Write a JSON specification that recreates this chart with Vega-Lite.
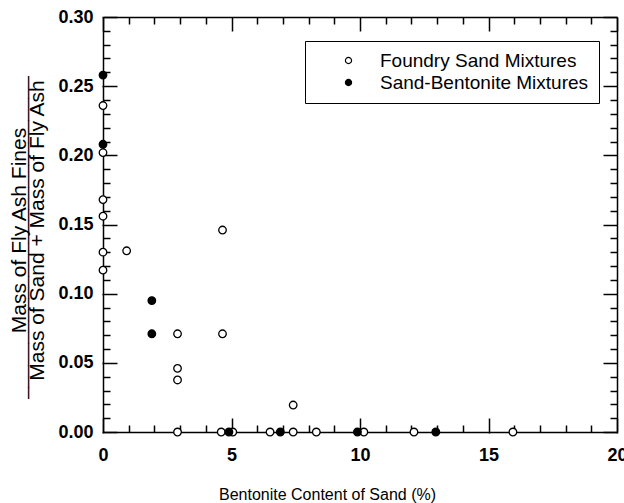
{
  "$schema": "https://vega.github.io/schema/vega-lite/v6.json",
  "width": 514,
  "height": 415,
  "autosize": "none",
  "padding": {"left": 103, "top": 17, "right": 7, "bottom": 71},
  "config": {
    "view": {"stroke": null},
    "axis": {
      "grid": false,
      "labelColor": "#000000",
      "titleColor": "#000000",
      "labelFont": "Liberation Sans",
      "titleFont": "Liberation Sans",
      "labelFlush": false,
      "labelOverlap": false,
      "labelBound": false
    }
  },
  "data": {
    "values": [
      {"series": "Foundry Sand Mixtures", "bentonite": 0, "ratio": 0.236},
      {"series": "Foundry Sand Mixtures", "bentonite": 0, "ratio": 0.202},
      {"series": "Foundry Sand Mixtures", "bentonite": 0, "ratio": 0.168},
      {"series": "Foundry Sand Mixtures", "bentonite": 0, "ratio": 0.156},
      {"series": "Foundry Sand Mixtures", "bentonite": 0, "ratio": 0.130},
      {"series": "Foundry Sand Mixtures", "bentonite": 0, "ratio": 0.117},
      {"series": "Foundry Sand Mixtures", "bentonite": 0.92, "ratio": 0.131},
      {"series": "Foundry Sand Mixtures", "bentonite": 4.65, "ratio": 0.146},
      {"series": "Foundry Sand Mixtures", "bentonite": 2.9, "ratio": 0.071},
      {"series": "Foundry Sand Mixtures", "bentonite": 4.65, "ratio": 0.071},
      {"series": "Foundry Sand Mixtures", "bentonite": 2.9, "ratio": 0.046},
      {"series": "Foundry Sand Mixtures", "bentonite": 2.9, "ratio": 0.0376},
      {"series": "Foundry Sand Mixtures", "bentonite": 7.4, "ratio": 0.0195},
      {"series": "Foundry Sand Mixtures", "bentonite": 2.9, "ratio": 0},
      {"series": "Foundry Sand Mixtures", "bentonite": 4.6, "ratio": 0},
      {"series": "Foundry Sand Mixtures", "bentonite": 5.05, "ratio": 0},
      {"series": "Foundry Sand Mixtures", "bentonite": 6.5, "ratio": 0},
      {"series": "Foundry Sand Mixtures", "bentonite": 7.4, "ratio": 0},
      {"series": "Foundry Sand Mixtures", "bentonite": 8.3, "ratio": 0},
      {"series": "Foundry Sand Mixtures", "bentonite": 10.15, "ratio": 0},
      {"series": "Foundry Sand Mixtures", "bentonite": 12.1, "ratio": 0},
      {"series": "Foundry Sand Mixtures", "bentonite": 15.95, "ratio": 0},
      {"series": "Sand-Bentonite Mixtures", "bentonite": 0, "ratio": 0.258},
      {"series": "Sand-Bentonite Mixtures", "bentonite": 0, "ratio": 0.208},
      {"series": "Sand-Bentonite Mixtures", "bentonite": 1.9, "ratio": 0.095},
      {"series": "Sand-Bentonite Mixtures", "bentonite": 1.9, "ratio": 0.071},
      {"series": "Sand-Bentonite Mixtures", "bentonite": 4.9, "ratio": 0},
      {"series": "Sand-Bentonite Mixtures", "bentonite": 6.9, "ratio": 0},
      {"series": "Sand-Bentonite Mixtures", "bentonite": 9.9, "ratio": 0},
      {"series": "Sand-Bentonite Mixtures", "bentonite": 12.95, "ratio": 0}
    ]
  },
  "resolve": {"axis": {"x": "independent", "y": "independent"}},
  "layer": [
    {
      "mark": {"type": "point", "opacity": 0},
      "encoding": {
        "x": {"field": "bentonite", "type": "quantitative", "scale": {"domain": [0, 20], "nice": false},
          "axis": {"orient": "top", "offset": -415, "values": [0,5,10,15,20], "tickSize": 14, "tickColor": "#000000", "tickWidth": 1.5, "labels": false, "domain": false, "title": null}},
        "y": {"field": "ratio", "type": "quantitative", "scale": {"domain": [0, 0.3], "nice": false},
          "axis": {"orient": "right", "offset": -514, "values": [0,0.05,0.1,0.15,0.2,0.25,0.3], "tickSize": 14, "tickColor": "#000000", "tickWidth": 1.5, "labels": false, "domain": false, "title": null}}
      }
    },
    {
      "mark": {"type": "point", "opacity": 0},
      "encoding": {
        "x": {"field": "bentonite", "type": "quantitative",
          "axis": {"orient": "bottom", "offset": -415, "values": [0,5,10,15,20], "tickSize": 14, "tickColor": "#000000", "tickWidth": 1.5, "labels": false, "domain": true, "domainColor": "#000000", "domainWidth": 1.5, "title": null}},
        "y": {"field": "ratio", "type": "quantitative",
          "axis": {"orient": "left", "offset": -514, "values": [0,0.05,0.1,0.15,0.2,0.25,0.3], "tickSize": 14, "tickColor": "#000000", "tickWidth": 1.5, "labels": false, "domain": true, "domainColor": "#000000", "domainWidth": 1.5, "title": null}}
      }
    },
    {
      "mark": {"type": "point", "opacity": 0},
      "encoding": {
        "x": {"field": "bentonite", "type": "quantitative",
          "axis": {"orient": "top", "offset": -415, "values": [1,2,3,4,6,7,8,9,11,12,13,14,16,17,18,19], "tickSize": 7, "tickColor": "#000000", "tickWidth": 1.5, "labels": false, "domain": false, "title": null}},
        "y": {"field": "ratio", "type": "quantitative",
          "axis": {"orient": "right", "offset": -514, "values": [0.01,0.02,0.03,0.04,0.06,0.07,0.08,0.09,0.11,0.12,0.13,0.14,0.16,0.17,0.18,0.19,0.21,0.22,0.23,0.24,0.26,0.27,0.28,0.29], "tickSize": 7, "tickColor": "#000000", "tickWidth": 1.5, "labels": false, "domain": false, "title": null}}
      }
    },
    {
      "mark": {"type": "point", "opacity": 0},
      "encoding": {
        "x": {"field": "bentonite", "type": "quantitative",
          "axis": {"orient": "bottom", "offset": -415, "values": [1,2,3,4,6,7,8,9,11,12,13,14,16,17,18,19], "tickSize": 7, "tickColor": "#000000", "tickWidth": 1.5, "labels": false, "domain": false, "title": null}},
        "y": {"field": "ratio", "type": "quantitative",
          "axis": {"orient": "left", "offset": -514, "values": [0.01,0.02,0.03,0.04,0.06,0.07,0.08,0.09,0.11,0.12,0.13,0.14,0.16,0.17,0.18,0.19,0.21,0.22,0.23,0.24,0.26,0.27,0.28,0.29], "tickSize": 7, "tickColor": "#000000", "tickWidth": 1.5, "labels": false, "domain": false,
            "title": "_____________________________", "titleColor": "#000000", "titleFontSize": 20, "titleFontWeight": "normal", "titleAngle": -90, "titleX": -593, "titleY": 220, "titleBaseline": "alphabetic", "titleAlign": "center"}}
      }
    },
    {
      "mark": {"type": "point", "filled": true, "size": 57, "stroke": "#000000", "strokeWidth": 1.3, "opacity": 1},
      "encoding": {
        "x": {"field": "bentonite", "type": "quantitative",
          "axis": {"orient": "bottom", "values": [0,5,10,15,20], "format": "d", "tickSize": 1, "tickColor": "#000000", "tickWidth": 1.5, "domainColor": "#000000", "domainWidth": 1.5, "labelPadding": 13, "labelFontSize": 18, "labelFontWeight": "bold",
            "title": "Bentonite Content of Sand (%)", "titleFontSize": 16, "titleFontWeight": "normal", "titleX": 224, "titleY": 67, "titleBaseline": "alphabetic", "titleAlign": "center"}},
        "y": {"field": "ratio", "type": "quantitative",
          "axis": {"orient": "left", "values": [0,0.05,0.1,0.15,0.2,0.25,0.3], "format": ".2f", "tickSize": 1, "tickColor": "#000000", "tickWidth": 1.5, "domainColor": "#000000", "domainWidth": 1.5, "labelPadding": 9, "labelFontSize": 18, "labelFontWeight": "bold",
            "title": ["Mass of Fly Ash Fines", "Mass of Sand + Mass of Fly Ash"], "titleFontSize": 21, "titleFontWeight": "normal", "titleLineHeight": 18, "titleAngle": -90, "titleX": -78, "titleY": 213, "titleBaseline": "alphabetic", "titleAlign": "center"}},
        "fill": {"field": "series", "type": "nominal",
          "scale": {"domain": ["Foundry Sand Mixtures", "Sand-Bentonite Mixtures"], "range": ["#ffffff", "#000000"]},
          "legend": {"title": null, "orient": "none", "legendX": 202, "legendY": 24, "strokeColor": "#000000", "padding": 10, "symbolOffset": 24, "labelOffset": 22, "labelFontSize": 19, "labelLimit": 400, "labelFont": "Liberation Sans", "labelColor": "#000000", "symbolType": "circle", "symbolSize": 38, "symbolOpacity": 1, "symbolStrokeColor": "#000000", "symbolStrokeWidth": 1.2, "rowPadding": 2}}
      }
    }
  ]
}
